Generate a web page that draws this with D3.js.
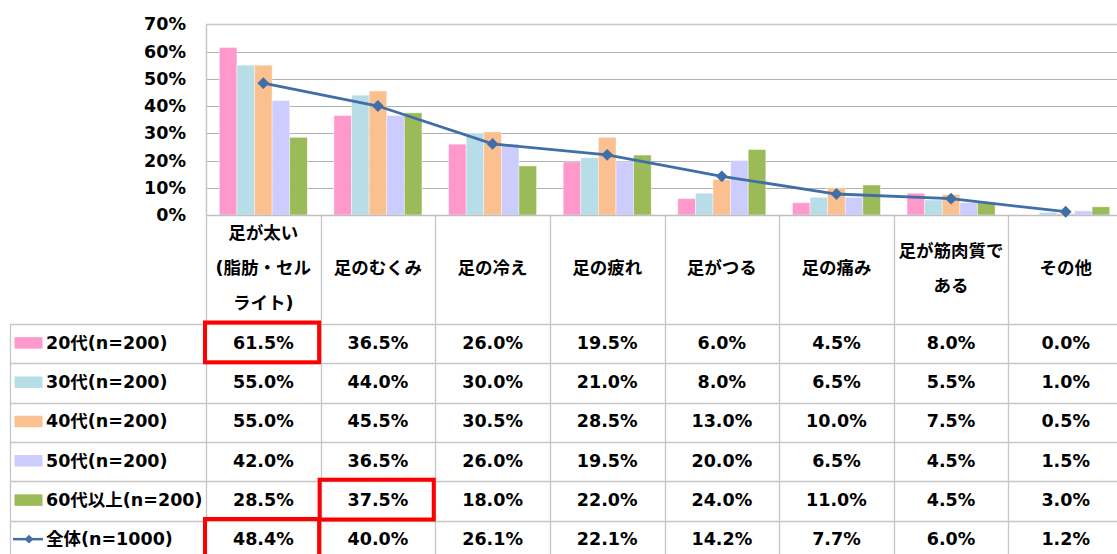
<!DOCTYPE html>
<html><head><meta charset="utf-8">
<script src="https://cdn.jsdelivr.net/npm/d3@7"></script>
<style>
html,body{margin:0;padding:0;background:#fff;}
svg{display:block;}
text{font-family:"DejaVu Sans","Noto Sans CJK JP",sans-serif;font-weight:bold;fill:#000;}
</style></head><body>
<svg id="c" width="1117" height="554"></svg>
<script>
const categories = [["足が太い","(脂肪・セル","ライト)"],["足のむくみ"],["足の冷え"],["足の疲れ"],["足がつる"],["足の痛み"],["足が筋肉質で","ある"],["その他"]];
const seriesNames = ["20代(n=200)","30代(n=200)","40代(n=200)","50代(n=200)","60代以上(n=200)"];
const v20 = [61.5, 36.5, 26.0, 19.5, 6.0, 4.5, 8.0, 0.0];
const v30 = [55.0, 44.0, 30.0, 21.0, 8.0, 6.5, 5.5, 1.0];
const v40 = [55.0, 45.5, 30.5, 28.5, 13.0, 10.0, 7.5, 0.5];
const v50 = [42.0, 36.5, 26.0, 19.5, 20.0, 6.5, 4.5, 1.5];
const v60 = [28.5, 37.5, 18.0, 22.0, 24.0, 11.0, 4.5, 3.0];
const totalName = "全体(n=1000)";
const total = [48.4, 40.0, 26.1, 22.1, 14.2, 7.7, 6.0, 1.2];
const yTicks = [0, 10, 20, 30, 40, 50, 60, 70];
const colors = ["#FF99CC", "#B7DEE8", "#FAC090", "#CCCCFF", "#9BBB59"];
const lineColor = "#416EA6";
const highlights = [[0,0],[4,1],[5,0]];

const seriesValues = [v20, v30, v40, v50, v60];
const svg = d3.select("#c");
const catKeys = categories.map((c,i)=>i);
const FS = "17.5px";

const x = d3.scaleBand().domain(catKeys).range([206, 1123]).padding(0);
const x1 = d3.scaleBand().domain(d3.range(5)).range([0, x.bandwidth()]).paddingInner(0).paddingOuter(0.756);
const y = d3.scaleLinear().domain([0, 70]).range([215, 24.3]);

// gridlines
svg.append("g").selectAll("line").data(yTicks.filter(t=>t>0)).join("line")
  .attr("x1", 206).attr("x2", 1117)
  .attr("y1", d=>Math.round(y(d))+0.5).attr("y2", d=>Math.round(y(d))+0.5)
  .attr("stroke", d=> d===70 ? "#c8c8c8" : "#b0b0b0").attr("stroke-width", d=> d===70?1.5:1);

// y axis
const yAxis = d3.axisLeft(y).tickValues(yTicks).tickFormat(d=>d+"%").tickSize(0).tickPadding(20);
const ya = svg.append("g").attr("transform","translate(206,0)").call(yAxis);
ya.select(".domain").attr("stroke","#c8c8c8").attr("stroke-width",1.5);
ya.selectAll("text").style("font-size",FS).style("font-family","'DejaVu Sans','Noto Sans CJK JP',sans-serif").style("font-weight","bold").attr("fill","#000");

// bars
const gBars = svg.append("g");
seriesValues.forEach((vals, si)=>{
  gBars.append("g").selectAll("rect").data(vals).join("rect")
    .attr("x", (d,i)=> x(i) + x1(si))
    .attr("y", d=> y(d))
    .attr("width", x1.bandwidth())
    .attr("height", d=> y(0)-y(d))
    .attr("fill", colors[si])
    .attr("stroke", "#ffffff").attr("stroke-opacity",0.5).attr("stroke-width",0.8);
});

// table
const rowNames = seriesNames.concat([totalName]);
const r = d3.scaleBand().domain(d3.range(6)).range([324, 324 + 6*39.3]);
const tableColor = "#c6c6c6";
const gT = svg.append("g");
gT.append("line").attr("x1",206).attr("x2",1117).attr("y1",215.5).attr("y2",215.5).attr("stroke","#c0c0c0").attr("stroke-width",1.5);
gT.selectAll("line.h").data(d3.range(7)).join("line").attr("class","h")
  .attr("x1",10).attr("x2",1117)
  .attr("y1", d=>Math.round(324 + d*39.3)+0.5).attr("y2", d=>Math.round(324 + d*39.3)+0.5)
  .attr("stroke", tableColor).attr("stroke-width",1.3);
gT.selectAll("line.v").data(d3.range(9)).join("line").attr("class","v")
  .attr("x1", d=> Math.round(x(0) + d*x.bandwidth())+0.5).attr("x2", d=> Math.round(x(0) + d*x.bandwidth())+0.5)
  .attr("y1", 215).attr("y2", 560)
  .attr("stroke", tableColor).attr("stroke-width",1.3);
gT.append("line").attr("x1",10.5).attr("x2",10.5).attr("y1",324).attr("y2",560).attr("stroke",tableColor).attr("stroke-width",1.3);

// header labels
categories.forEach((lines, ci)=>{
  const cx = x(ci) + x.bandwidth()/2;
  lines.forEach((t, li)=>{
    gT.append("text").attr("x", cx).attr("y", 268 + (li - (lines.length-1)/2)*35)
      .attr("text-anchor","middle").attr("dominant-baseline","central")
      .style("font-size",FS).text(t);
  });
});

// values
const allRows = seriesValues.concat([total]);
allRows.forEach((vals, ri)=>{
  const cy = r(ri) + r.bandwidth()/2 - 1;
  gT.append("g").selectAll("text").data(vals).join("text")
    .attr("x", (d,i)=> x(i) + x.bandwidth()/2).attr("y", cy)
    .attr("text-anchor","middle").attr("dominant-baseline","central")
    .style("font-size",FS).text(d=> d.toFixed(1)+"%");
  gT.append("text").attr("x", 46).attr("y", cy).attr("dominant-baseline","central")
    .style("font-size",FS).text(rowNames[ri]);
  if (ri < 5) {
    gT.append("rect").attr("x",14.5).attr("y", cy-5.5).attr("width",28).attr("height",11.5).attr("fill",colors[ri]);
  } else {
    gT.append("line").attr("x1",13).attr("x2",43).attr("y1",cy).attr("y2",cy).attr("stroke",lineColor).attr("stroke-width",2.5);
    gT.append("path").attr("d", d3.symbol(d3.symbolSquare, 40)()).attr("transform",`translate(29,${cy}) rotate(45)`).attr("fill",lineColor);
  }
});

// highlight boxes
svg.append("g").selectAll("rect").data(highlights).join("rect")
  .attr("x", d=> x(d[1]) - 1)
  .attr("y", d=> r(d[0]) - 1.5)
  .attr("width", x.bandwidth() - 0.5)
  .attr("height", r.bandwidth() + 0.5)
  .attr("fill","none").attr("stroke","#FF0000").attr("stroke-width",4);

// total line
const line = d3.line().x((d,i)=> x(i) + x.bandwidth()/2).y(d=> y(d));
svg.append("path").datum(total).attr("d", line).attr("fill","none").attr("stroke",lineColor).attr("stroke-width",2.8);
svg.append("g").selectAll("path").data(total).join("path")
  .attr("d", d3.symbol(d3.symbolSquare, 70)())
  .attr("transform",(d,i)=>`translate(${x(i)+x.bandwidth()/2},${y(d)}) rotate(45)`)
  .attr("fill",lineColor);
</script>
</body></html>
